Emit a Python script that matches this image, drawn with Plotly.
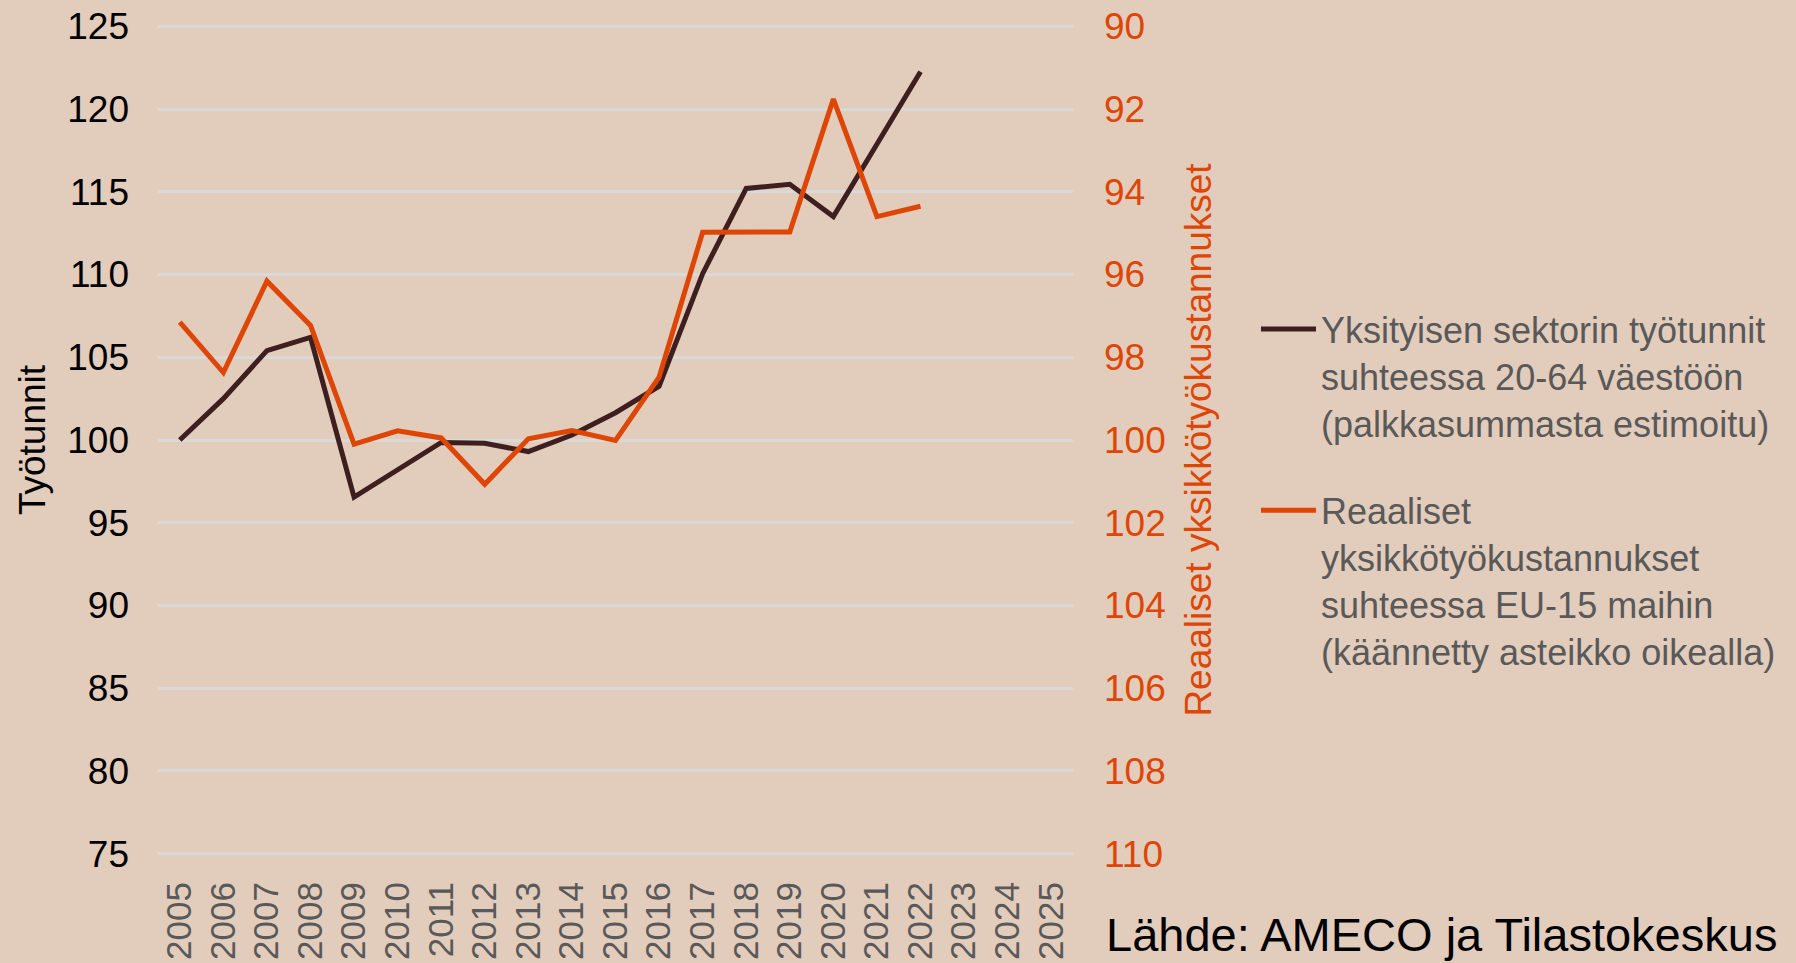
import plotly.graph_objects as go

years = list(range(2005, 2026))
year_labels = [str(y) for y in years]

data_years = list(range(2005, 2023))
tyotunnit = [100.0, 102.5, 105.4, 106.2, 96.55, 98.2, 99.85, 99.8, 99.3, 100.3,
             101.65, 103.25, 110.05, 115.2, 115.45, 113.5, 117.85, 122.25]
reaaliset = [97.15, 98.37, 96.16, 97.23, 100.1, 99.78, 99.95, 101.07, 99.97, 99.77,
             100.01, 98.48, 94.98, 94.99, 94.97, 91.76, 94.6, 94.35]

left_ticks = list(range(75, 126, 5))
right_ticks = list(range(90, 111, 2))

name1 = "Yksityisen sektorin työtunnit<br>suhteessa 20-64 väestöön<br>(palkkasummasta estimoitu)"
name2 = "Reaaliset<br>yksikkötyökustannukset<br>suhteessa EU-15 maihin<br>(käännetty asteikko oikealla)"

BG = "#E2CCBB"
DARK = "#3E1F1F"
ORANGE = "#DE4606"
GRID = "#D9D9D9"
GRAYTXT = "#595959"
FONT = "Liberation Sans, Arial, sans-serif"

fig = go.Figure()
fig.add_trace(go.Scatter(x=data_years, y=tyotunnit, mode="lines", name=name1,
                         line=dict(color=DARK, width=5), legendgroup="a", yaxis="y"))
fig.add_trace(go.Scatter(x=data_years, y=reaaliset, mode="lines", name=name2,
                         line=dict(color=ORANGE, width=5), legendgroup="b", yaxis="y2"))

fig.update_layout(
    width=1796, height=963,
    paper_bgcolor=BG, plot_bgcolor=BG,
    margin=dict(l=158, r=723, t=23, b=106),
    font=dict(family=FONT, size=36, color="black"),
    xaxis=dict(range=[2004.5, 2025.5], tickmode="array", tickvals=years, ticktext=year_labels,
               tickangle=-90, tickfont=dict(size=35, color=GRAYTXT), showgrid=False,
               zeroline=False, showline=False, ticks="", ticklabelstandoff=17, automargin=False),
    yaxis=dict(range=[74.8, 125.2], tickmode="array", tickvals=left_ticks,
               showgrid=True, gridcolor=GRID, gridwidth=2.5, zeroline=False, showline=False,
               ticks="", tickfont=dict(size=37, color="black"), ticklabelstandoff=28, automargin=False,
               title=dict(text="Työtunnit", font=dict(size=37, color="black"), standoff=10)),
    yaxis2=dict(range=[110.08, 89.92], tickmode="array", tickvals=right_ticks, overlaying="y",
                side="right", showgrid=False, zeroline=False, showline=False, ticks="",
                tickfont=dict(size=37, color=ORANGE), ticklabelstandoff=30, automargin=False,
                title=dict(text="Reaaliset yksikkötyökustannukset", font=dict(size=37, color=ORANGE),
                           standoff=20)),
    legend=dict(x=1.20, y=0.669, xanchor="left", yanchor="top", valign="top",
                font=dict(size=36, color=GRAYTXT), bgcolor="rgba(0,0,0,0)",
                tracegroupgap=38, itemwidth=55),
    showlegend=True,
    annotations=[dict(text="Lähde: AMECO ja Tilastokeskus", xref="paper", yref="paper",
                      x=1.035, y=-0.1255, xanchor="left", yanchor="bottom", showarrow=False,
                      borderpad=0, font=dict(size=47, color="black"))],
)

fig.write_html("out.html", config={"displayModeBar": False},
               post_script="document.body.style.margin='0';")
